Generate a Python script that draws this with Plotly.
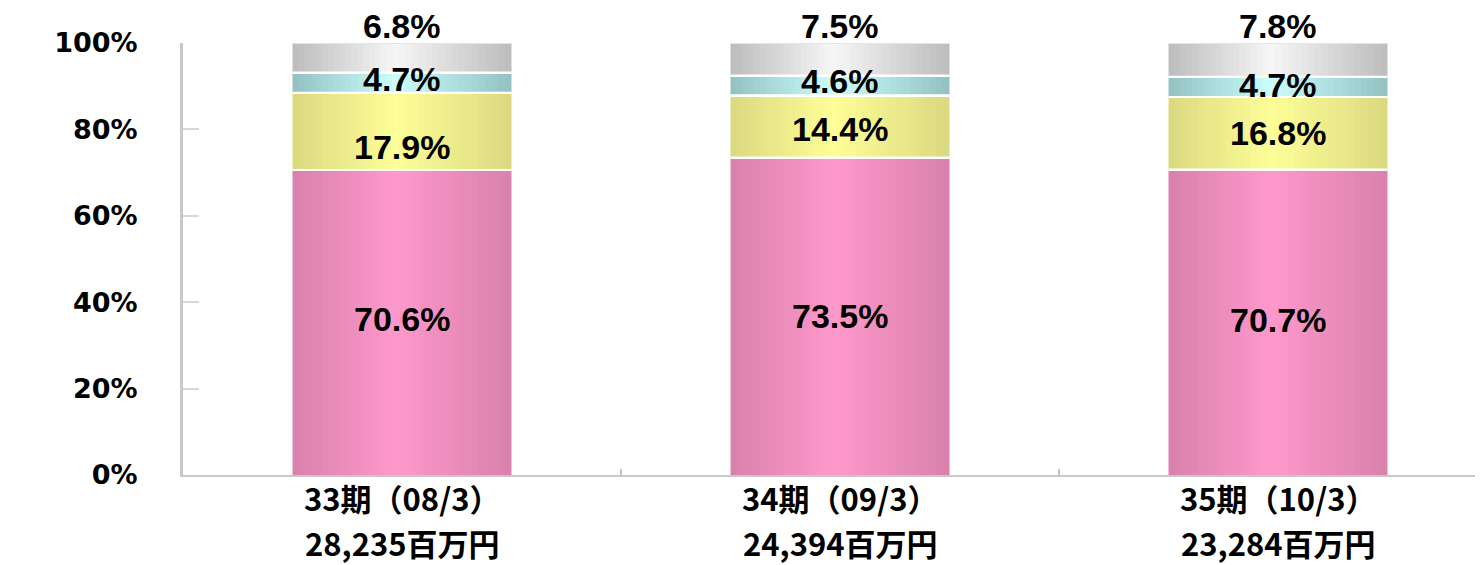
import plotly.graph_objects as go
import numpy as np

# ---- data ----
periods = ["33期（08/3）", "34期（09/3）", "35期（10/3）"]
totals = ["28,235百万円", "24,394百万円", "23,284百万円"]
seg_names = ["区分1", "区分2", "区分3", "区分4"]
seg1 = [70.6, 73.5, 70.7]
seg2 = [17.9, 14.4, 16.8]
seg3 = [4.7, 4.6, 4.7]
seg4 = [6.8, 7.5, 7.8]
y_tick_vals = [0, 20, 40, 60, 80, 100]
y_tick_text = ["0%", "20%", "40%", "60%", "80%", "100%"]

series = [seg1, seg2, seg3, seg4]
categories = periods

# label nudges in pixels (style only; positive = up)
label_shift = [[4, 0, 2], [-16, -3, 0], [4, 4, 2]]

# gradient colours (edge, centre)
grad = [("#DA82AD", "#FF99CC"),
        ("#DCDA80", "#FFFF99"),
        ("#95C3C3", "#CCFFFF"),
        ("#BEBEBE", "#F8F8F8")]


def hex2rgb(h):
    h = h.lstrip("#")
    return np.array([int(h[i:i + 2], 16) for i in (0, 2, 4)], dtype=float)


def lerp(c1, c2, f):
    a, b = hex2rgb(c1), hex2rgb(c2)
    c = a + (b - a) * f
    return "rgb(%d,%d,%d)" % tuple(np.round(c).astype(int))


W = 0.5      # bar width (category units)
H = 0.47     # highlight position across the bar
N = 18       # gradient layers

fig = go.Figure()

bases = []
cum = [0.0] * len(categories)
for s in series:
    bases.append(list(cum))
    cum = [c + v for c, v in zip(cum, s)]

for si, s in enumerate(series):
    edge, centre = grad[si]
    for k, t in enumerate(np.linspace(1.0, 0.03, N)):
        f = 1.0 - t
        fig.add_trace(go.Bar(
            x=categories, y=s, base=bases[si],
            width=t * W, offset=-W / 2 + (1 - t) * H * W,
            marker=dict(color=lerp(edge, centre, f), line=dict(width=0)),
            name=seg_names[si], showlegend=False, hoverinfo="skip",
        ))

# thin separators between segments
d = 0.45
for si in range(1, len(series) + 1):
    tops = [b + v for b, v in zip(bases[si - 1], series[si - 1])]
    col = "#FFFFFF" if si < len(series) else "#E4E4E4"
    fig.add_trace(go.Bar(
        x=categories, y=[d] * len(categories), base=[t - d / 2 for t in tops],
        width=W, offset=-W / 2,
        marker=dict(color=col, line=dict(width=0)),
        showlegend=False, hoverinfo="skip",
    ))

# value labels
label_font = dict(family="Liberation Sans, Arial, sans-serif", size=34, color="#000000")
for si, s in enumerate(series):
    for ci, v in enumerate(s):
        if si < len(series) - 1:
            fig.add_annotation(x=categories[ci], y=bases[si][ci] + v / 2,
                               text=f"<b>{v:.1f}%</b>", showarrow=False,
                               font=label_font, yanchor="middle",
                               yshift=label_shift[si][ci])
        else:
            fig.add_annotation(x=categories[ci], y=bases[si][ci] + v,
                               text=f"<b>{v:.1f}%</b>", showarrow=False,
                               font=label_font, yanchor="bottom", yshift=-4)

# category labels (two lines)
cat_font = dict(family="Noto Sans CJK JP", size=31, color="#000000")
for ci, c in enumerate(categories):
    fig.add_annotation(x=c, y=0, text=f"<b>{periods[ci]}</b>", showarrow=False,
                       font=cat_font, yanchor="middle", yshift=-22)
    fig.add_annotation(x=c, y=0, text=f"<b>{totals[ci]}</b>", showarrow=False,
                       font=cat_font, yanchor="middle", yshift=-67)

fig.update_layout(
    width=1475, height=557,
    margin=dict(l=175, r=0, t=35, b=90),
    barmode="overlay",
    plot_bgcolor="white", paper_bgcolor="white",
    showlegend=False,
)
fig.update_xaxes(
    type="category", range=[-0.5, 2.468],
    showline=True, linecolor="#C8C8C8", linewidth=2,
    ticks="inside", tickson="boundaries", ticklen=6, tickwidth=2, tickcolor="#C0C0C0",
    showgrid=False, zeroline=False, showticklabels=False,
)
fig.update_yaxes(
    range=[0, 100], tickvals=y_tick_vals, ticktext=[f"<b>{t}</b>" for t in y_tick_text],
    showline=True, linecolor="#C8C8C8", linewidth=3,
    ticks="inside", ticklen=16, tickwidth=2, tickcolor="#D8D8D8",
    showgrid=False, zeroline=False,
    ticklabelstandoff=37,
    tickfont=dict(family="DejaVu Sans", size=27, color="#000000"),
)

fig.write_html("out.html")
